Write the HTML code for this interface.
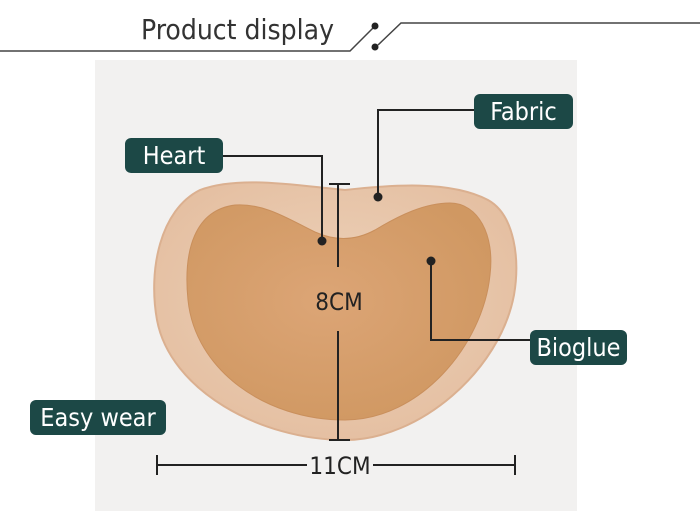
<!DOCTYPE html>
<html><head><meta charset="utf-8"><style>
body{margin:0;width:700px;height:511px;background:#fff;overflow:hidden;font-family:"DejaVu Sans Condensed","DejaVu Sans","Liberation Sans",sans-serif;}
.lbl{position:absolute;background:#1c4846;color:#fff;border-radius:6px;font-size:25px;line-height:35px;text-align:center;font-family:"DejaVu Sans Condensed","DejaVu Sans",sans-serif;}
</style></head><body>
<svg width="700" height="511" style="position:absolute;left:0;top:0">
<defs>
<radialGradient id="g1" cx="50%" cy="45%" r="60%"><stop offset="0" stop-color="#edd2ba"/><stop offset="1" stop-color="#e4bea0"/></radialGradient>
<radialGradient id="g2" cx="45%" cy="45%" r="60%"><stop offset="0" stop-color="#dca576"/><stop offset="1" stop-color="#d09862"/></radialGradient>
</defs>
<rect x="95" y="60" width="482" height="451" fill="#f2f1f0"/>
<text x="141" y="39" font-family="DejaVu Sans Condensed, DejaVu Sans, sans-serif" font-size="28" fill="#333">Product display</text>
<g stroke="#444" stroke-width="1.5" fill="none">
<polyline points="0,51 350,51 373,28"/>
<polyline points="378,45 401,23 700,23"/>
</g>
<circle cx="375" cy="26" r="3.5" fill="#222"/><circle cx="375" cy="47" r="3.5" fill="#222"/>
<path d="M345,190 C390,185 450,180 488,200 C515,215 520,260 514,295 C500,370 420,440 345,440 C260,440 170,390 157,320 C148,270 160,210 200,190 C240,175 300,186 345,190 Z" fill="url(#g1)" stroke="#dbb090" stroke-width="2"/>
<path d="M315,232 C335,241 355,241 375,230 C400,215 425,203 450,203 C478,203 495,235 490,275 C483,345 420,420 345,420 C265,420 195,370 188,300 C183,250 195,210 235,205 C265,203 290,220 315,232 Z" fill="url(#g2)" stroke="#c98f5c" stroke-width="1"/>
<g stroke="#222" stroke-width="2" fill="none">
<polyline points="223,156 322,156 322,241"/>
<polyline points="474,110 378,110 378,197"/>
<polyline points="431,261 431,340 530,340"/>
<line x1="338" y1="184" x2="338" y2="267"/><line x1="329" y1="184" x2="350" y2="184"/>
<line x1="338" y1="331" x2="338" y2="440"/><line x1="329" y1="440" x2="350" y2="440"/>
<line x1="157" y1="465" x2="307" y2="465"/><line x1="373" y1="465" x2="515" y2="465"/>
<line x1="157" y1="455" x2="157" y2="475"/><line x1="515" y1="455" x2="515" y2="475"/>
</g>
<circle cx="322" cy="241" r="4.5" fill="#222"/><circle cx="378" cy="197" r="4.5" fill="#222"/><circle cx="431" cy="261" r="4.5" fill="#222"/>
<text x="339" y="310" text-anchor="middle" font-family="DejaVu Sans Condensed, DejaVu Sans, sans-serif" font-size="24" fill="#222">8CM</text>
<text x="340" y="474" text-anchor="middle" font-family="DejaVu Sans Condensed, DejaVu Sans, sans-serif" font-size="24" fill="#222">11CM</text>
</svg>
<div class="lbl" style="left:125px;top:138px;width:98px;">Heart</div>
<div class="lbl" style="left:474px;top:94px;width:99px;">Fabric</div>
<div class="lbl" style="left:530px;top:330px;width:97px;">Bioglue</div>
<div class="lbl" style="left:30px;top:400px;width:136px;">Easy wear</div>
</body></html>
